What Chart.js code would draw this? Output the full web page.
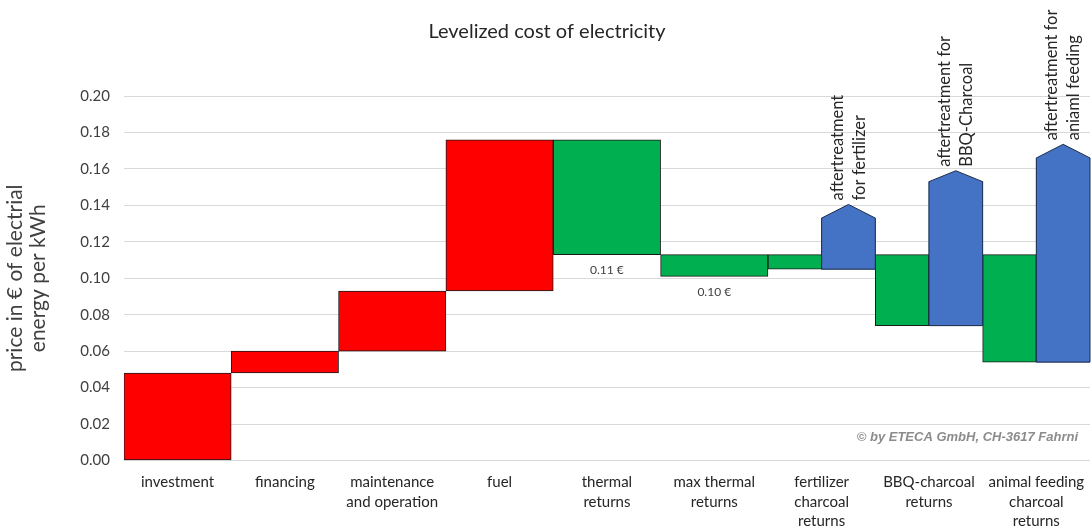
<!DOCTYPE html>
<html>
<head>
<meta charset="utf-8">
<script src="https://cdn.jsdelivr.net/npm/chart.js@4"></script>
<style>
  html, body { margin: 0; padding: 0; background: #fff; }
  #wrap { width: 1092px; height: 532px; }
</style>
</head>
<body>
<div id="wrap"><canvas id="lcoe"></canvas></div>
<script>
// --- data ---
const categories = [
    ['investment'], ['financing'], ['maintenance', 'and operation'], ['fuel'],
    ['thermal', 'returns'], ['max thermal', 'returns'], ['fertilizer', 'charcoal', 'returns'],
    ['BBQ-charcoal', 'returns'], ['animal feeding', 'charcoal', 'returns']
];
// cost steps and returns (floating bars: [low, high])
const costReturns = [
    [0, 0.048], [0.048, 0.060], [0.060, 0.093], [0.093, 0.176],
    [0.113, 0.176], [0.101, 0.113], [0.105, 0.113], [0.074, 0.113], [0.054, 0.113]
];
const barColors = ['#ff0000', '#ff0000', '#ff0000', '#ff0000', '#00b050', '#00b050', '#00b050', '#00b050', '#00b050'];
// aftertreatment bars: [low, shoulder] and the roof peak
const aftertreatment = [null, null, null, null, null, null, [0.105, 0.133], [0.074, 0.153], [0.054, 0.166]];
const aftertreatmentPeak = [null, null, null, null, null, null, 0.1405, 0.159, 0.1735];
const aftertreatmentText = [null, null, null, null, null, null,
    ['aftertreatment', 'for fertilizer'], ['aftertreatment for', 'BBQ-Charcoal'], ['aftertreatment for', 'aniaml feeding']];
const valueLabels = [null, null, null, null, '0.11 €', '0.10 €', null, null, null];

const FONT = 'Lato, "Open Sans", sans-serif';

// draws the pointed roof of the blue bars plus the rotated captions
const roofPlugin = {
    id: 'roof',
    afterDatasetsDraw(chart) {
        const ctx = chart.ctx;
        const y = chart.scales.y;
        const meta = chart.getDatasetMeta(1);
        meta.data.forEach((el, i) => {
            const v = aftertreatment[i];
            if (!v) return;
            const left = el.x - el.width / 2, right = el.x + el.width / 2;
            const yb = y.getPixelForValue(v[0]);
            const ys = y.getPixelForValue(v[1]);
            const yp = y.getPixelForValue(aftertreatmentPeak[i]);
            ctx.save();
            ctx.beginPath();
            ctx.moveTo(left, yb);
            ctx.lineTo(left, ys);
            ctx.lineTo(el.x, yp);
            ctx.lineTo(right, ys);
            ctx.lineTo(right, yb);
            ctx.closePath();
            ctx.fillStyle = '#4472c4';
            ctx.fill();
            ctx.lineWidth = 1;
            ctx.strokeStyle = '#1f2d4a';
            ctx.stroke();

            // rotated caption above the peak
            ctx.translate(el.x, yp - 4);
            ctx.rotate(-Math.PI / 2);
            ctx.font = '16.5px ' + FONT;
            ctx.fillStyle = '#262626';
            ctx.textAlign = 'left';
            ctx.textBaseline = 'middle';
            const lines = aftertreatmentText[i];
            ctx.fillText(lines[0], 0, -11);
            ctx.fillText(lines[1], 0, 11);
            ctx.restore();
        });

        // value labels under the green return bars
        const meta0 = chart.getDatasetMeta(0);
        ctx.save();
        ctx.font = '12px ' + FONT;
        ctx.fillStyle = '#404040';
        ctx.textAlign = 'center';
        ctx.textBaseline = 'middle';
        meta0.data.forEach((el, i) => {
            if (!valueLabels[i]) return;
            const yb = y.getPixelForValue(costReturns[i][0]);
            ctx.fillText(valueLabels[i], el.x, yb + 16);
        });
        ctx.restore();

        // copyright note
        const area = chart.chartArea;
        ctx.save();
        ctx.font = 'italic bold 13px "Liberation Sans", Arial, sans-serif';
        ctx.fillStyle = '#8c8c8c';
        ctx.textAlign = 'right';
        ctx.textBaseline = 'middle';
        ctx.fillText('© by ETECA GmbH, CH-3617 Fahrni', area.right - 12, 437);
        ctx.restore();
    }
};

new Chart(document.getElementById('lcoe'), {
    type: 'bar',
    data: {
        labels: categories,
        datasets: [
            {
                label: 'cost / returns',
                data: costReturns,
                backgroundColor: barColors,
                borderColor: '#1a1a1a',
                borderWidth: 1,
                borderSkipped: false
            },
            {
                label: 'aftertreatment',
                data: aftertreatment,
                backgroundColor: '#4472c4',
                borderWidth: 0
            }
        ]
    },
    options: {
        responsive: true,
        maintainAspectRatio: false,
        animation: false,
        skipNull: true,
        barPercentage: 1,
        categoryPercentage: 1,
        layout: { padding: { top: 0, right: 2, left: 4, bottom: -3 } },
        plugins: {
            legend: { display: false },
            tooltip: { enabled: false },
            title: {
                display: true,
                text: 'Levelized cost of electricity',
                color: '#262626',
                font: { family: FONT, size: 20, weight: 'normal' },
                padding: { top: 20, bottom: 52 }
            }
        },
        scales: {
            x: {
                grid: { display: false },
                border: { display: false },
                ticks: {
                    color: '#262626',
                    font: { family: FONT, size: 15, lineHeight: 1.3 },
                    maxRotation: 0,
                    autoSkip: false,
                    padding: 4
                }
            },
            y: {
                min: 0,
                max: 0.2,
                grid: { color: '#d9d9d9', drawTicks: false },
                border: { display: false },
                ticks: {
                    stepSize: 0.02,
                    color: '#404040',
                    font: { family: FONT, size: 15 },
                    padding: 14,
                    callback: v => v.toFixed(2)
                },
                title: {
                    display: true,
                    text: ['price in € of electrial', 'energy per kWh'],
                    color: '#404040',
                    font: { family: FONT, size: 21, lineHeight: 1.1 },
                    padding: { top: 0, bottom: 16 }
                }
            }
        }
    },
    plugins: [roofPlugin]
});
</script>
</body>
</html>
